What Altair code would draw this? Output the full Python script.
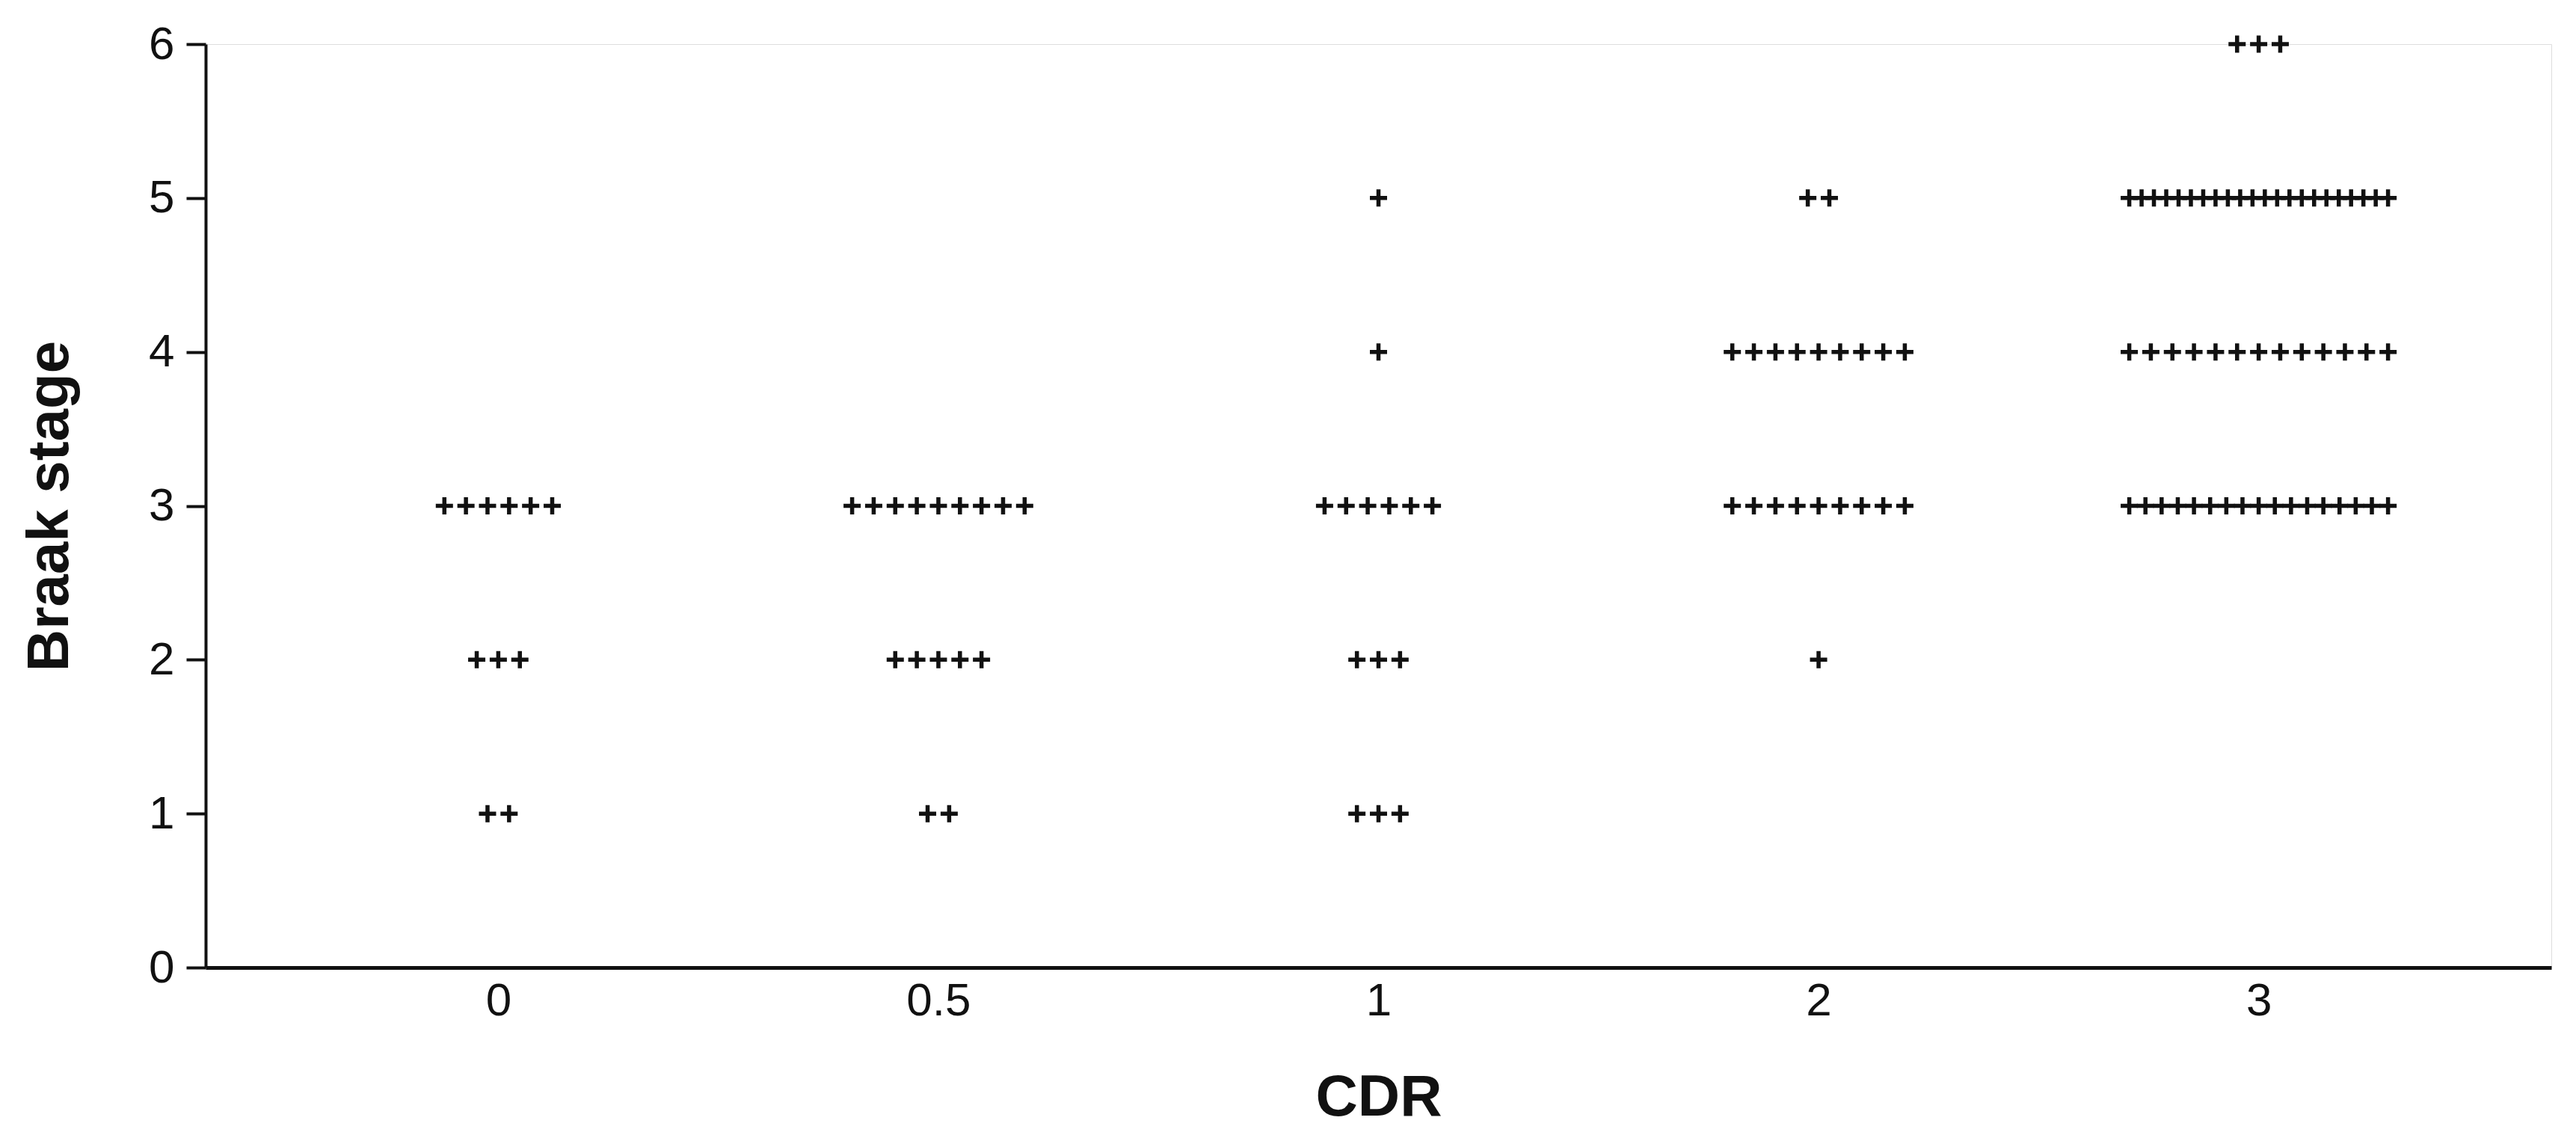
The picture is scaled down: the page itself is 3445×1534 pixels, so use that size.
import altair as alt
import pandas as pd

# Categories and counts (number of cases per cell)
cdr_labels = ["0", "0.5", "1", "2", "3"]
stage_values = [1, 2, 3, 4, 5, 6]
# counts per CDR group for Braak stage 1..6
counts_cdr0 = [2, 3, 6, 0, 0, 0]
counts_cdr05 = [2, 5, 9, 0, 0, 0]
counts_cdr1 = [3, 3, 6, 1, 1, 0]
counts_cdr2 = [0, 1, 9, 9, 2, 0]
counts_cdr3 = [0, 0, 17, 13, 22, 3]
all_counts = [counts_cdr0, counts_cdr05, counts_cdr1, counts_cdr2, counts_cdr3]

rows = []
for ci, (lab, cnts) in enumerate(zip(cdr_labels, all_counts)):
    for stage, n in zip(stage_values, cnts):
        for i in range(n):
            rows.append({"cdr": lab, "cdr_idx": ci, "stage": stage, "i": i, "n": n})
df = pd.DataFrame(rows)

STEP = 0.049   # horizontal spacing between markers, in category units
MAXSLOTS = 13  # rows with more markers are squeezed into this width

label_expr = "['0','0.5','1','2','3'][datum.value]"

chart = (
    alt.Chart(df)
    .transform_calculate(
        step=f"datum.n > {MAXSLOTS} ? {STEP}*{MAXSLOTS - 1}/(datum.n-1) : {STEP}"
    )
    .transform_calculate(
        xpos="datum.cdr_idx + (datum.i - (datum.n-1)/2) * datum.step"
    )
    .mark_point(
        shape="M-1,0L1,0M0,-1L0,1",
        filled=False,
        stroke="#111111",
        strokeWidth=5.5,
        size=529,
        opacity=1,
    )
    .encode(
        x=alt.X(
            "xpos:Q",
            scale=alt.Scale(domain=[-0.665, 4.665], nice=False, zero=False),
            axis=alt.Axis(
                title="CDR",
                values=[0, 1, 2, 3, 4],
                labelExpr=label_expr,
                ticks=False,
                grid=False,
                domainColor="#111111",
                domainWidth=5,
                labelFont="Liberation Sans",
                labelFontSize=62,
                labelColor="#111111",
                labelPadding=14,
                titleFont="Liberation Sans",
                titleFontSize=78,
                titleFontWeight="bold",
                titleColor="#111111",
                titlePadding=60,
            ),
        ),
        y=alt.Y(
            "stage:Q",
            scale=alt.Scale(domain=[0, 6], nice=False),
            axis=alt.Axis(
                title="Braak stage",
                values=[0, 1, 2, 3, 4, 5, 6],
                format="d",
                grid=False,
                ticks=True,
                tickSize=26,
                tickWidth=4,
                tickColor="#111111",
                domainColor="#111111",
                domainWidth=4,
                labelFont="Liberation Sans",
                labelFontSize=62,
                labelColor="#111111",
                labelPadding=16,
                titleFont="Liberation Sans",
                titleFontSize=78,
                titleFontWeight="bold",
                titleColor="#111111",
                titlePadding=92,
            ),
        ),
    )
    .properties(
        width=3137,
        height=1235,
        padding={"top": 20, "left": 20, "right": 5, "bottom": 5},
    )
    .configure_view(stroke=None, strokeWidth=0, strokeOpacity=0)
    .configure_axis(grid=False)
    .configure(background="white")
)

chart.save("out.html", embed_options={"renderer": "svg", "actions": False})
